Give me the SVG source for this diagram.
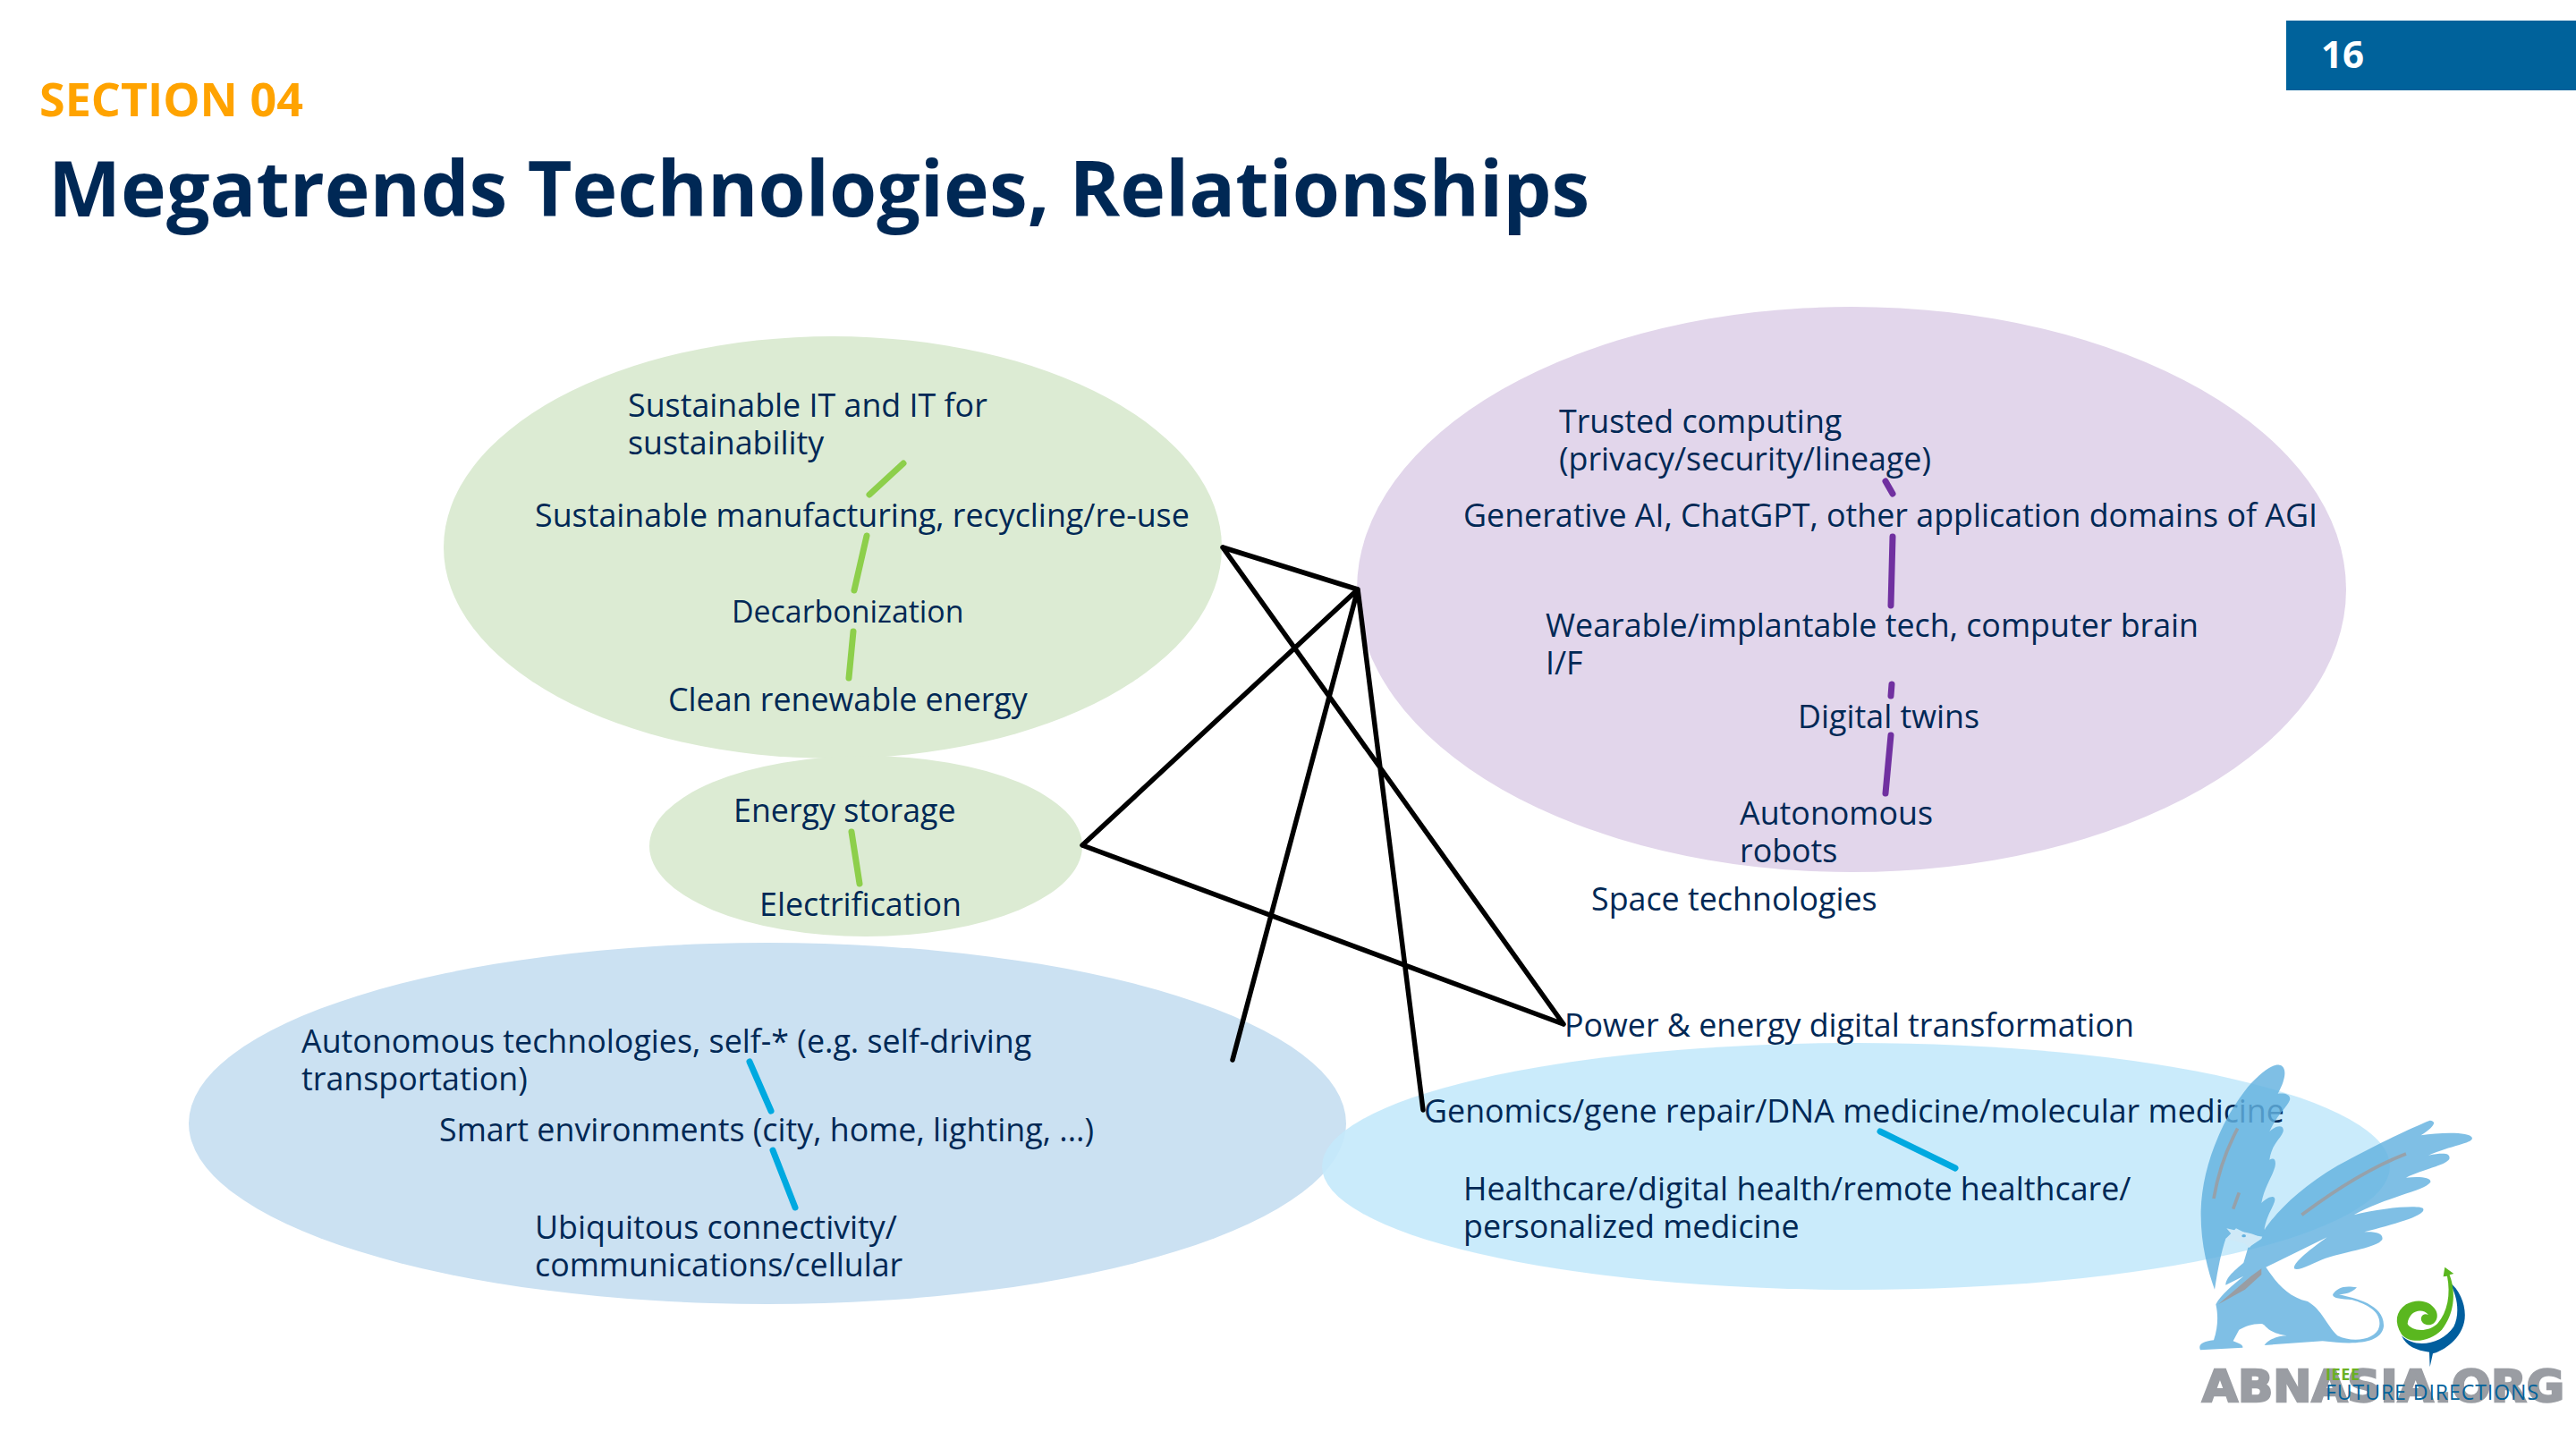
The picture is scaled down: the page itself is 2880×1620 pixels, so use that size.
<svg xmlns="http://www.w3.org/2000/svg" width="2880" height="1620" viewBox="0 0 2880 1620">
<defs><style>
text{font-family:"Open Sans","Noto Sans","Liberation Sans",sans-serif}
.t{font-size:35.8px;fill:#002855}
.cn{stroke:#000;stroke-width:5.5;fill:none;stroke-linecap:round}
.lg{stroke:#8dcf4b;stroke-width:7;fill:none;stroke-linecap:round}
.lp{stroke:#7030a0;stroke-width:7;fill:none;stroke-linecap:round}
.lb{stroke:#00a9e0;stroke-width:7;fill:none;stroke-linecap:round}
.abn{font-family:"DejaVu Sans","Liberation Sans",sans-serif;font-size:50px;font-weight:700;fill:#9a9da3;stroke:#9a9da3;stroke-width:2.5}
</style></defs>
<rect width="2880" height="1620" fill="#fff"/>
<rect x="2556" y="23" width="324" height="78" fill="#00629b"/>
<text x="2595" y="76" font-size="42" font-weight="700" fill="#fff">16</text>
<text x="44" y="130" font-size="52" font-weight="700" fill="#ffa300">SECTION 04</text>
<text x="54" y="242" font-size="86" font-weight="700" fill="#002855">Megatrends Technologies, Relationships</text>
<g id="ellipse-green"><ellipse cx="931" cy="612" rx="435" ry="236" fill="#dcebd3"/></g>
<g id="ellipse-green-small"><ellipse cx="968" cy="946" rx="242" ry="101" fill="#dcebd3"/></g>
<g id="ellipse-purple"><ellipse cx="2070" cy="659" rx="553" ry="316" fill="#e2d6eb"/></g>
<g id="ellipse-blue"><ellipse cx="858" cy="1256" rx="647" ry="202" fill="#cbe1f2"/></g>
<g id="ellipse-cyan"><ellipse cx="2075" cy="1304" rx="597" ry="138" fill="#c4e9fb" fill-opacity=".9"/></g>
<g id="connectors">
<path class="cn" d="M1367 612L1518 659M1518 659L1210 945M1210 945L1748 1145M1367 612L1748 1145M1518 659L1378 1185M1518 659L1591 1241"/>
<path class="lg" d="M1010 518L972 553M969 599L955 660M954 706L949 758M952 930L961 988"/>
<path class="lp" d="M2108 538L2116 552M2116 600L2114 677M2115 765L2114 778M2114 822L2108 887"/>
<path class="lb" d="M838 1187L862 1242M864 1286L889 1350M2102 1265L2186 1306"/>
</g>
<g id="n-sustainable-it"><text class="t" x="702" y="466">Sustainable IT and IT for</text><text class="t" x="702" y="508">sustainability</text></g>
<g id="n-manufacturing"><text class="t" x="598" y="589">Sustainable manufacturing, recycling/re-use</text></g>
<g id="n-decarbonization"><text class="t" x="818" y="696" style="font-size:33.9px">Decarbonization</text></g>
<g id="n-clean"><text class="t" x="747" y="795">Clean renewable energy</text></g>
<g id="n-storage"><text class="t" x="820" y="919">Energy storage</text></g>
<g id="n-electrification"><text class="t" x="849" y="1024">Electrification</text></g>
<g id="n-trusted"><text class="t" x="1743" y="484">Trusted computing</text><text class="t" x="1743" y="526">(privacy/security/lineage)</text></g>
<g id="n-generative"><text class="t" x="1636" y="589">Generative AI, ChatGPT, other application domains of AGI</text></g>
<g id="n-wearable"><text class="t" x="1728" y="712">Wearable/implantable tech, computer brain</text><text class="t" x="1728" y="754">I/F</text></g>
<g id="n-twins"><text class="t" x="2010" y="814">Digital twins</text></g>
<g id="n-robots"><text class="t" x="1945" y="922">Autonomous</text><text class="t" x="1945" y="964">robots</text></g>
<g id="n-space"><text class="t" x="1779" y="1018">Space technologies</text></g>
<g id="n-power"><text class="t" x="1749" y="1159">Power &amp; energy digital transformation</text></g>
<g id="n-autonomous"><text class="t" x="337" y="1177">Autonomous technologies, self-* (e.g. self-driving</text><text class="t" x="337" y="1219">transportation)</text></g>
<g id="n-smart"><text class="t" x="491" y="1276">Smart environments (city, home, lighting, ...)</text></g>
<g id="n-ubiquitous"><text class="t" x="598" y="1385">Ubiquitous connectivity/</text><text class="t" x="598" y="1427">communications/cellular</text></g>
<g id="n-genomics"><text class="t" x="1592" y="1255">Genomics/gene repair/DNA medicine/molecular medicine</text></g>
<g id="n-healthcare"><text class="t" x="1636" y="1342">Healthcare/digital health/remote healthcare/</text><text class="t" x="1636" y="1384">personalized medicine</text></g>
<g id="logo" transform="translate(2400 1150) scale(.3333)">
<g opacity=".82" fill="#63b2e0">
<path d="M228 875C205 810 180 720 182 610C185 480 240 320 340 195C385 145 425 118 445 122C468 125 472 160 440 218C465 215 485 222 480 240C470 265 440 285 412 345C440 320 462 325 458 345C450 370 420 385 412 440C430 430 435 445 430 465C420 500 395 530 385 585C405 565 432 555 430 575C425 600 405 620 395 670L400 700L340 690L300 670L265 705C250 750 240 800 228 875Z"/>
<path d="M398 670C440 610 520 530 640 460C740 405 870 340 950 308C972 310 970 325 920 358C985 348 1090 345 1092 368C1090 385 1020 392 945 425C1000 415 1020 418 1015 438C1000 460 930 470 870 500C920 495 955 500 952 515C930 545 800 565 695 625C790 600 925 590 928 605C935 628 830 655 730 682C775 680 795 690 790 708C770 735 680 745 600 770C560 785 510 815 495 805C490 785 550 740 605 700L400 800C430 845 470 900 540 915C590 945 600 990 640 1030C690 1055 770 1045 780 1000C790 950 740 925 690 910C650 905 620 905 625 890C640 870 660 860 705 868C690 885 670 890 645 892C700 905 800 925 795 1000C785 1060 690 1060 590 1048L395 1062C405 1045 440 1030 470 1030C400 1020 400 990 385 990C350 990 330 1000 310 1010L290 1048C305 1055 325 1060 322 1070L180 1078C172 1060 185 1050 225 1045C240 1000 240 960 232 925C250 890 290 860 325 830L265 860C265 830 310 800 325 785L340 735L385 705Z"/>
</g>
<path fill="#cfe9f7" d="M265 705L285 690L268 670L320 682C350 685 375 695 382 705C370 715 355 720 345 735L328 720Z"/>
<ellipse cx="326" cy="695" rx="7" ry="5" fill="#63b2e0"/>
<path fill="none" stroke="#9a9da3" stroke-opacity=".9" stroke-width="11" d="M225 570C240 480 265 410 305 335M290 605L310 550M520 625C620 550 740 470 870 420"/>
<path fill="#9a9da3" d="M240 925L350 830L385 805L385 825L330 875Z"/>
<path fill="#005e9e" d="M855 1030C900 1075 990 1060 1030 1000C1050 960 1045 900 1015 850C1055 880 1075 940 1065 985C1050 1050 985 1085 960 1090L950 1135L948 1085C905 1080 870 1065 855 1030Z"/>
<path fill="#5ab71f" d="M1000 800L1030 822L1016 826C1040 890 1030 960 990 1010C950 1050 885 1060 855 1025C830 985 835 950 870 925C905 905 950 910 970 945C985 975 960 1005 930 990C910 975 925 950 945 960C925 935 880 945 875 990C885 1010 935 1025 975 990C1010 950 1020 890 1008 830L995 832Z"/>
</g>
<g id="logo-text">
<text class="abn" x="2462" y="1567" textLength="405" lengthAdjust="spacingAndGlyphs">ABNASIA.ORG</text>
<text x="2600" y="1543" font-size="18" font-weight="700" fill="#6ab023" textLength="38">IEEE</text>
<text x="2600" y="1565" font-size="23" fill="#00629b" textLength="238">FUTURE DIRECTIONS</text>
</g>
</svg>
